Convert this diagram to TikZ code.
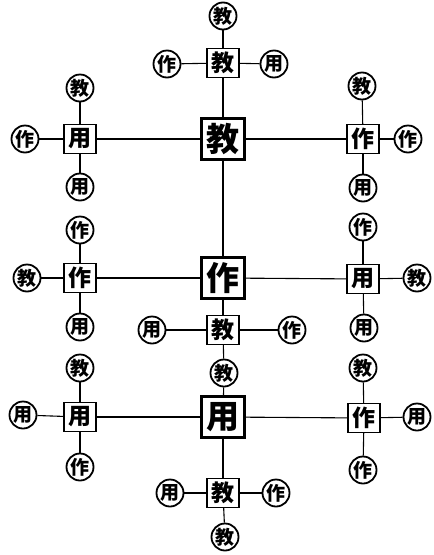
\documentclass[tikz,border=0pt]{standalone}
\usepackage{fontspec}
\newfontfamily\cjk{Noto Sans CJK SC}
\begin{document}
\begin{tikzpicture}[x=1pt,y=-1pt,
  cir/.style={circle, draw, line width=1.8pt, minimum size=27pt, inner sep=0pt, font=\cjk\bfseries\fontsize{19}{19}\selectfont},
  sq/.style={rectangle, draw, line width=1.3pt, minimum width=32pt, minimum height=29pt, inner sep=0pt, font=\cjk\bfseries\fontsize{23}{23}\selectfont},
  bigsq/.style={rectangle, draw, line width=3pt, minimum width=43pt, minimum height=41pt, inner sep=0pt, font=\cjk\bfseries\fontsize{33}{33}\selectfont},
  link/.style={line width=1.1pt}]
\useasboundingbox[fill=white] (0,0) rectangle (434,555);
% central column
\node[cir] (tc) at (223,16) {教};
\node[sq] (s1) at (223,63) {教};
\node[cir] (s1l) at (167,64) {作};
\node[cir] (s1r) at (274,64) {用};
\node[bigsq] (B1) at (223,139) {教};
\node[bigsq] (B2) at (223,278) {作};
\node[sq] (s2) at (223,330) {教};
\node[cir] (s2l) at (152,330) {用};
\node[cir] (s2r) at (292,330) {作};
\node[cir] (s2b) at (224,373) {教};
\node[bigsq] (B3) at (223,417) {用};
\node[sq] (s3) at (223,493) {教};
\node[cir] (s3l) at (170,493) {用};
\node[cir] (s3r) at (276,493) {作};
\node[cir] (s3b) at (225,537) {教};
% left clusters
\node[sq] (L1) at (80,139) {用};
\node[cir] (L1t) at (80,88) {教};
\node[cir] (L1b) at (80,187) {用};
\node[cir] (L1l) at (25,139) {作};
\node[sq] (L2) at (80,278) {作};
\node[cir] (L2t) at (80,230) {作};
\node[cir] (L2b) at (80,327) {用};
\node[cir] (L2l) at (27,278) {教};
\node[sq] (L3) at (80,417) {用};
\node[cir] (L3t) at (80,368) {教};
\node[cir] (L3b) at (80,467) {作};
\node[cir] (L3l) at (23,415) {用};
% right clusters
\node[sq] (R1) at (363,139) {作};
\node[cir] (R1t) at (362,86) {教};
\node[cir] (R1b) at (363,188) {用};
\node[cir] (R1r) at (408,139) {作};
\node[sq] (R2) at (363,279) {用};
\node[cir] (R2t) at (363,227) {作};
\node[cir] (R2b) at (364,328) {用};
\node[cir] (R2r) at (417,278) {教};
\node[sq] (R3) at (364,418) {作};
\node[cir] (R3t) at (363,368) {教};
\node[cir] (R3b) at (363,470) {作};
\node[cir] (R3r) at (417,417) {用};
% connectors
\draw[link] (tc) -- (s1); \draw[link] (s1) -- (B1);
\draw[link] (s1l) -- (s1); \draw[link] (s1) -- (s1r);
\draw[link] (B1) -- (B2); \draw[link] (B2) -- (s2);
\draw[link] (s2l) -- (s2); \draw[link] (s2) -- (s2r);
\draw[link] (s2) -- (s2b); \draw[link] (s2b) -- (B3);
\draw[link] (B3) -- (s3);
\draw[link] (s3l) -- (s3); \draw[link] (s3) -- (s3r);
\draw[link] (s3) -- (s3b);
\draw[link] (L1) -- (B1); \draw[link] (B1) -- (R1);
\draw[link] (L2) -- (B2); \draw[link] (B2) -- (R2);
\draw[link] (L3) -- (B3); \draw[link] (B3) -- (R3);
\foreach \n/\o in {L1/l,L2/l,L3/l,R1/r,R2/r,R3/r} {
  \draw[link] (\n t) -- (\n);
  \draw[link] (\n) -- (\n b);
  \draw[link] (\n\o) -- (\n);
}
\end{tikzpicture}
\end{document}
